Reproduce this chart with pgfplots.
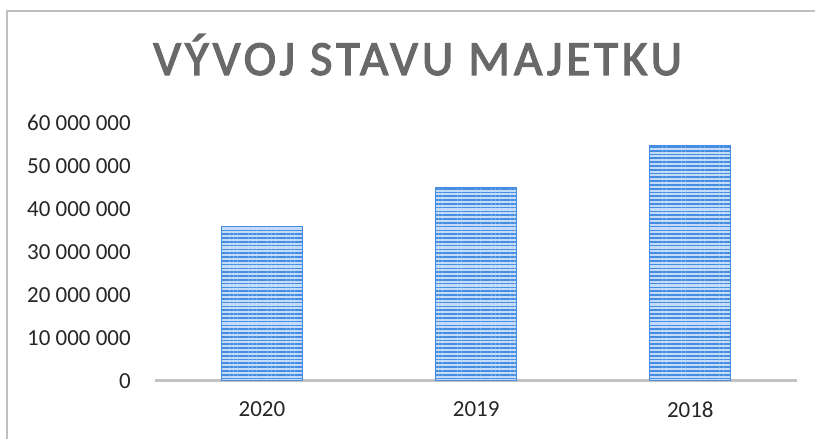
\documentclass[border=0pt]{standalone}
\usepackage{fontspec}
\setmainfont{Carlito}
\usepackage{pgfplots}
\pgfplotsset{compat=1.18}
\usetikzlibrary{patterns.meta}

\definecolor{barblue}{RGB}{70,140,225}
\definecolor{barlight}{RGB}{195,220,250}
\definecolor{titlegray}{RGB}{105,105,105}
\definecolor{axisgray}{RGB}{195,195,195}

\begin{document}
\begin{tikzpicture}
% page frame, 1pt = 1px of the reference
\path (0pt,0pt) rectangle (816pt,439pt);
\draw[black!25, line width=1.2pt] (7pt,0pt) -- (7pt,428pt) -- (816pt,428pt);

\node[anchor=base, text=titlegray, inner sep=0pt,
  font=\fontsize{49}{52}\selectfont\addfontfeature{LetterSpace=8,FakeBold=2.5}]
  at (418pt,364pt) {VÝVOJ STAVU MAJETKU};

\begin{axis}[
    at={(155pt,58pt)}, anchor=south west,
    scale only axis,
    width=643pt, height=258pt,
    xmin=-0.5, xmax=2.5,
    ymin=0, ymax=60000000,
    axis lines=left,
    x axis line style={draw=axisgray, line width=3.5pt, -},
    y axis line style={draw=none, -},
    major tick length=0pt,
    xtick={0,1,2},
    xticklabels={2020,2019,2018},
    ytick={0,10000000,20000000,30000000,40000000,50000000,60000000},
    yticklabels={0,10 000 000,20 000 000,30 000 000,40 000 000,50 000 000,60 000 000},
    scaled y ticks=false,
    tick label style={font=\fontsize{23}{27}\selectfont, text=black!85},
    yticklabel style={anchor=east, inner sep=0pt, xshift=-24pt},
    xticklabel style={anchor=north, inner sep=0pt, yshift=-21pt},
    clip=false,
]
\addplot[ybar, bar width=81pt, fill=barlight, draw=barblue, line width=0.8pt,
    postaction={pattern={Lines[angle=0,distance=3.8pt,line width=1.7pt]}, pattern color=barblue}]
    coordinates {(0,35800000) (1,45100000) (2,54700000)};
\end{axis}
\end{tikzpicture}
\end{document}
